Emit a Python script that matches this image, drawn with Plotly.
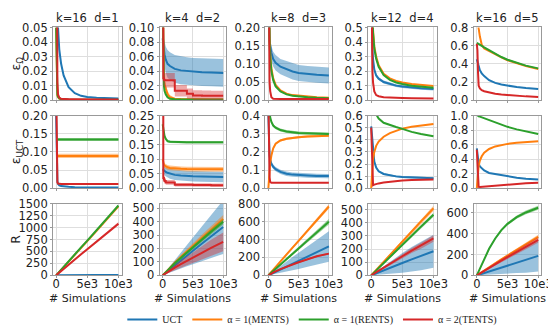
import plotly.graph_objects as go
from plotly.subplots import make_subplots

# x positions (number of simulations)
X = [0, 100, 200, 300, 500, 800, 1200, 2000, 3000, 4000, 5000, 6500, 8000, 10000]
XR = [0, 1000, 2000, 3000, 4000, 5000, 6500, 8000, 10000]

titles = ["k=16\u00a0 d=1", "k=4\u00a0 d=2", "k=8\u00a0 d=3", "k=12\u00a0 d=4", "k=16\u00a0 d=5"]
row_labels = ["ε<sub>Ω</sub>", "ε<sub>UCT</sub>", "R"]
x_ticks = [0, 5000, 10000]
x_ticktext = ["0", "5e3", "10e3"]

# ---- row 1 : eps_Omega ----
eo1_uct = [0.3, 0.1, 0.075, 0.05, 0.035, 0.025, 0.017, 0.009, 0.0048, 0.003, 0.0022, 0.0017, 0.0014, 0.0012]
eo1_ments = [0.05, 0.006, 0.003, 0.002, 0.001, 0.0006, 0.0004, 0.0003, 0.0002, 0.0002, 0.0001, 0.0001, 0.0001, 0.0001]
eo1_rents = [0.05, 0.008, 0.004, 0.0025, 0.0012, 0.0008, 0.0006, 0.0004, 0.0003, 0.0003, 0.0003, 0.0003, 0.0003, 0.0003]
eo1_tents = [0.3, 0.05, 0.012, 0.004, 0.0018, 0.001, 0.0008, 0.0007, 0.0006, 0.0005, 0.0005, 0.0005, 0.0005, 0.0005]

eo2_uct = [0.085, 0.075, 0.068, 0.063, 0.056, 0.05, 0.047, 0.043, 0.041, 0.04, 0.039, 0.0385, 0.038, 0.0375]
eo2_uct_sd = [0.008, 0.014, 0.016, 0.017, 0.018, 0.019, 0.019, 0.019, 0.019, 0.019, 0.019, 0.019, 0.019, 0.019]
eo2_ments = [0.15, 0.05, 0.03, 0.022, 0.015, 0.008, 0.004, 0.002, 0.0015, 0.0012, 0.001, 0.001, 0.001, 0.001]
eo2_ments_sd = [0.0, 0.006, 0.006, 0.006, 0.006, 0.005, 0.003, 0.001, 0.001, 0.001, 0.001, 0.001, 0.001, 0.001]
eo2_rents = [0.15, 0.04, 0.02, 0.013, 0.008, 0.004, 0.002, 0.0012, 0.001, 0.001, 0.001, 0.001, 0.001, 0.001]
eo2_tents = [0.2, 0.03, 0.028, 0.0275, 0.0275, 0.0275, 0.0275, 0.013, 0.013, 0.009, 0.0065, 0.0062, 0.006, 0.006]
eo2_tents_sd = [0.0, 0.01, 0.01, 0.01, 0.01, 0.01, 0.01, 0.008, 0.008, 0.007, 0.007, 0.007, 0.007, 0.007]

eo3_uct = [0.3, 0.2, 0.17, 0.15, 0.13, 0.113, 0.103, 0.092, 0.085, 0.079, 0.075, 0.072, 0.07, 0.068]
eo3_uct_sd = [0.01, 0.015, 0.018, 0.02, 0.02, 0.02, 0.021, 0.021, 0.022, 0.022, 0.022, 0.022, 0.022, 0.022]
eo3_ments = [0.5, 0.27, 0.18, 0.13, 0.088, 0.06, 0.042, 0.027, 0.018, 0.014, 0.012, 0.0095, 0.008, 0.007]
eo3_rents = [0.5, 0.25, 0.16, 0.12, 0.08, 0.055, 0.038, 0.024, 0.016, 0.012, 0.01, 0.008, 0.0065, 0.0055]
eo3_tents = [0.5, 0.12, 0.05, 0.025, 0.008, 0.004, 0.003, 0.003, 0.003, 0.003, 0.003, 0.003, 0.003, 0.003]

eo4_uct = [1.0, 0.5, 0.35, 0.28, 0.21, 0.17, 0.148, 0.125, 0.11, 0.1, 0.094, 0.087, 0.082, 0.077]
eo4_uct_sd = [0.02, 0.02, 0.015, 0.015, 0.012, 0.012, 0.01, 0.01, 0.01, 0.01, 0.01, 0.01, 0.01, 0.01]
eo4_ments = [1.5, 0.8, 0.6, 0.48, 0.37, 0.3, 0.24, 0.182, 0.15, 0.132, 0.121, 0.111, 0.104, 0.098]
eo4_rents = [1.5, 0.78, 0.58, 0.46, 0.355, 0.285, 0.23, 0.172, 0.14, 0.122, 0.111, 0.1, 0.093, 0.086]
eo4_tents = [1.0, 0.4, 0.2, 0.12, 0.06, 0.035, 0.027, 0.021, 0.018, 0.016, 0.015, 0.013, 0.012, 0.011]

eo5_uct = [0.45, 0.42, 0.4, 0.37, 0.33, 0.295, 0.265, 0.22, 0.19, 0.172, 0.16, 0.145, 0.134, 0.123]
eo5_ments = [1.2, 1.0, 0.87, 0.79, 0.7, 0.61, 0.57, 0.54, 0.505, 0.47, 0.44, 0.405, 0.375, 0.343]
eo5_rents = [0.63, 0.625, 0.62, 0.615, 0.605, 0.6, 0.58, 0.55, 0.51, 0.475, 0.445, 0.41, 0.38, 0.35]
eo5_tents = [0.62, 0.55, 0.3, 0.16, 0.13, 0.11, 0.098, 0.085, 0.07, 0.062, 0.056, 0.049, 0.042, 0.036]

# ---- row 2 : eps_UCT ----
eu1_uct = [0.2, 0.05, 0.02, 0.012, 0.008, 0.006, 0.005, 0.004, 0.003, 0.0025, 0.0022, 0.002, 0.002, 0.002]
eu1_ments = [0.089, 0.089, 0.089, 0.089, 0.089, 0.089, 0.089, 0.089, 0.089, 0.089, 0.089, 0.089, 0.089, 0.089]
eu1_ments_sd = [0.006, 0.006, 0.006, 0.006, 0.006, 0.006, 0.006, 0.006, 0.006, 0.006, 0.006, 0.006, 0.006, 0.006]
eu1_rents = [0.134, 0.134, 0.134, 0.134, 0.134, 0.134, 0.134, 0.134, 0.134, 0.134, 0.134, 0.134, 0.134, 0.134]
eu1_rents_sd = [0.004, 0.004, 0.004, 0.004, 0.004, 0.004, 0.004, 0.004, 0.004, 0.004, 0.004, 0.004, 0.004, 0.004]
eu1_tents = [0.3, 0.04, 0.016, 0.013, 0.012, 0.012, 0.012, 0.012, 0.012, 0.012, 0.012, 0.012, 0.012, 0.012]

eu2_uct = [0.065, 0.063, 0.061, 0.059, 0.056, 0.053, 0.05, 0.046, 0.044, 0.042, 0.041, 0.04, 0.04, 0.039]
eu2_uct_sd = [0.005, 0.01, 0.012, 0.014, 0.015, 0.016, 0.017, 0.018, 0.018, 0.018, 0.018, 0.018, 0.018, 0.018]
eu2_ments = [0.1, 0.085, 0.081, 0.078, 0.075, 0.072, 0.07, 0.068, 0.067, 0.066, 0.066, 0.066, 0.065, 0.065]
eu2_ments_sd = [0.008, 0.008, 0.008, 0.008, 0.008, 0.008, 0.008, 0.008, 0.008, 0.008, 0.008, 0.008, 0.008, 0.008]
eu2_rents = [0.22, 0.2, 0.19, 0.18, 0.17, 0.162, 0.16, 0.159, 0.158, 0.158, 0.158, 0.158, 0.158, 0.158]
eu2_rents_sd = [0.01, 0.01, 0.008, 0.008, 0.006, 0.005, 0.004, 0.004, 0.004, 0.004, 0.004, 0.004, 0.004, 0.004]
eu2_tents = [0.3, 0.035, 0.03, 0.025, 0.02, 0.02, 0.02, 0.012, 0.012, 0.012, 0.011, 0.011, 0.01, 0.01]
eu2_tents_sd = [0.0, 0.01, 0.01, 0.008, 0.008, 0.008, 0.008, 0.006, 0.006, 0.006, 0.006, 0.006, 0.006, 0.006]

eu3_uct = [0.4, 0.25, 0.18, 0.16, 0.135, 0.118, 0.105, 0.09, 0.08, 0.075, 0.072, 0.07, 0.068, 0.067]
eu3_uct_sd = [0.01, 0.012, 0.012, 0.012, 0.012, 0.012, 0.012, 0.012, 0.012, 0.012, 0.012, 0.012, 0.012, 0.012]
eu3_ments = [0.0, 0.05, 0.1, 0.14, 0.18, 0.22, 0.245, 0.263, 0.272, 0.278, 0.281, 0.285, 0.287, 0.289]
eu3_ments_sd = [0.006, 0.006, 0.006, 0.006, 0.006, 0.006, 0.006, 0.006, 0.006, 0.006, 0.006, 0.006, 0.006, 0.006]
eu3_rents = [0.5, 0.45, 0.41, 0.39, 0.365, 0.345, 0.333, 0.32, 0.312, 0.307, 0.304, 0.302, 0.3, 0.299]
eu3_rents_sd = [0.008, 0.008, 0.008, 0.008, 0.008, 0.008, 0.008, 0.008, 0.008, 0.008, 0.008, 0.008, 0.008, 0.008]
eu3_tents = [0.5, 0.2, 0.06, 0.035, 0.03, 0.03, 0.03, 0.03, 0.03, 0.03, 0.03, 0.03, 0.03, 0.03]

eu4_uct = [0.51, 0.45, 0.35, 0.28, 0.22, 0.17, 0.14, 0.118, 0.105, 0.098, 0.093, 0.088, 0.085, 0.082]
eu4_uct_sd = [0.008, 0.008, 0.008, 0.008, 0.008, 0.008, 0.008, 0.008, 0.008, 0.008, 0.008, 0.008, 0.008, 0.008]
eu4_ments = [0.0, 0.12, 0.19, 0.24, 0.3, 0.35, 0.385, 0.425, 0.455, 0.475, 0.492, 0.508, 0.52, 0.53]
eu4_rents = [0.9, 0.82, 0.76, 0.72, 0.66, 0.61, 0.575, 0.54, 0.52, 0.505, 0.49, 0.465, 0.447, 0.43]
eu4_tents = [0.5, 0.3, 0.03, 0.025, 0.03, 0.035, 0.04, 0.048, 0.055, 0.06, 0.064, 0.068, 0.071, 0.073]

eu5_uct = [0.55, 0.45, 0.38, 0.34, 0.3, 0.27, 0.245, 0.21, 0.195, 0.175, 0.16, 0.145, 0.132, 0.122]
eu5_ments = [0.0, 0.15, 0.25, 0.31, 0.38, 0.44, 0.49, 0.54, 0.575, 0.595, 0.61, 0.625, 0.637, 0.648]
eu5_rents = [1.01, 1.0, 0.995, 0.99, 0.985, 0.975, 0.965, 0.935, 0.9, 0.87, 0.845, 0.81, 0.78, 0.745]
eu5_tents = [0.53, 0.3, 0.05, 0.02, 0.018, 0.02, 0.025, 0.035, 0.045, 0.052, 0.058, 0.064, 0.07, 0.075]

# ---- row 3 : R ----
r1_uct = [0, 3, 4, 5, 5, 6, 6, 7, 7]
r1_ments = [0, 140, 285, 430, 575, 715, 930, 1150, 1445]
r1_rents = [0, 150, 295, 440, 585, 725, 940, 1160, 1460]
r1_tents = [0, 115, 225, 335, 440, 545, 700, 860, 1080]
r1_tents_sd = [0, 8, 12, 15, 18, 22, 26, 30, 35]

r2_uct = [0, 38, 75, 110, 148, 183, 237, 290, 360]
r2_uct_sd = [0, 20, 40, 60, 80, 100, 130, 160, 200]
r2_ments = [0, 50, 95, 137, 180, 220, 280, 340, 420]
r2_ments_sd = [0, 8, 12, 15, 18, 20, 24, 27, 30]
r2_rents = [0, 47, 90, 130, 170, 210, 268, 325, 400]
r2_rents_sd = [0, 6, 9, 11, 13, 15, 17, 19, 20]
r2_tents = [0, 30, 58, 83, 108, 133, 170, 205, 250]
r2_tents_sd = [0, 10, 18, 25, 32, 40, 50, 60, 70]

r3_uct = [0, 33, 66, 98, 130, 162, 210, 258, 323]
r3_uct_sd = [0, 20, 40, 55, 75, 90, 115, 140, 170]
r3_ments = [0, 80, 158, 235, 310, 385, 500, 615, 768]
r3_ments_sd = [0, 5, 8, 10, 12, 15, 18, 22, 25]
r3_rents = [0, 62, 122, 182, 240, 300, 390, 480, 597]
r3_rents_sd = [0, 6, 10, 14, 17, 20, 24, 27, 30]
r3_tents = [0, 40, 70, 97, 122, 146, 180, 212, 242]
r3_tents_sd = [0, 4, 5, 6, 7, 8, 9, 10, 10]

r4_uct = [0, 20, 39, 57, 76, 94, 121, 148, 183]
r4_uct_sd = [0, 15, 30, 45, 60, 75, 95, 110, 125]
r4_ments = [0, 52, 103, 153, 203, 255, 330, 410, 509]
r4_ments_sd = [0, 5, 7, 9, 11, 13, 15, 18, 20]
r4_rents = [0, 47, 94, 140, 186, 232, 300, 370, 461]
r4_rents_sd = [0, 4, 6, 8, 10, 11, 12, 14, 15]
r4_tents = [0, 30, 58, 87, 116, 145, 188, 225, 280]
r4_tents_sd = [0, 8, 10, 12, 14, 16, 19, 22, 25]

r5_uct = [0, 19, 38, 56, 75, 94, 122, 150, 187]
r5_uct_sd = [0, 15, 30, 45, 60, 75, 100, 125, 150]
r5_ments = [0, 40, 78, 116, 153, 190, 245, 300, 371]
r5_ments_sd = [0, 5, 8, 10, 12, 14, 16, 18, 20]
r5_rents = [0, 135, 255, 355, 435, 495, 560, 605, 650]
r5_rents_sd = [0, 5, 8, 10, 12, 14, 16, 18, 20]
r5_tents = [0, 37, 72, 107, 141, 175, 225, 275, 341]
r5_tents_sd = [0, 6, 10, 13, 16, 19, 22, 25, 28]

COLORS = {"UCT": "#1f77b4", "MENTS": "#ff7f0e", "RENTS": "#2ca02c", "TENTS": "#d62728"}
FILLS = {"UCT": "rgba(31,119,180,0.45)", "MENTS": "rgba(255,127,14,0.45)",
         "RENTS": "rgba(44,160,44,0.45)", "TENTS": "rgba(214,39,40,0.4)"}
NAMES = {"UCT": "UCT", "MENTS": "α = 1(MENTS)", "RENTS": "α = 1(RENTS)", "TENTS": "α = 2(TENTS)"}

# (row, col, x, [(key, y, sd, shape)], ymax, dtick, fmt)
panels = [
    (1, 1, X, [("UCT", eo1_uct, None, "linear"), ("MENTS", eo1_ments, None, "linear"),
               ("RENTS", eo1_rents, None, "linear"), ("TENTS", eo1_tents, None, "linear")], 0.05, 0.01, ".2f"),
    (1, 2, X, [("UCT", eo2_uct, eo2_uct_sd, "linear"), ("MENTS", eo2_ments, eo2_ments_sd, "linear"),
               ("RENTS", eo2_rents, None, "linear"), ("TENTS", eo2_tents, eo2_tents_sd, "hv")], 0.10, 0.02, ".2f"),
    (1, 3, X, [("UCT", eo3_uct, eo3_uct_sd, "linear"), ("MENTS", eo3_ments, None, "linear"),
               ("RENTS", eo3_rents, None, "linear"), ("TENTS", eo3_tents, None, "linear")], 0.20, 0.05, ".2f"),
    (1, 4, X, [("UCT", eo4_uct, eo4_uct_sd, "linear"), ("MENTS", eo4_ments, None, "linear"),
               ("RENTS", eo4_rents, None, "linear"), ("TENTS", eo4_tents, None, "linear")], 0.5, 0.1, ".1f"),
    (1, 5, X, [("UCT", eo5_uct, None, "linear"), ("MENTS", eo5_ments, None, "linear"),
               ("RENTS", eo5_rents, None, "linear"), ("TENTS", eo5_tents, None, "linear")], 0.8, 0.2, ".1f"),
    (2, 1, X, [("UCT", eu1_uct, None, "linear"), ("MENTS", eu1_ments, eu1_ments_sd, "linear"),
               ("RENTS", eu1_rents, eu1_rents_sd, "linear"), ("TENTS", eu1_tents, None, "linear")], 0.20, 0.05, ".2f"),
    (2, 2, X, [("UCT", eu2_uct, eu2_uct_sd, "linear"), ("MENTS", eu2_ments, eu2_ments_sd, "linear"),
               ("RENTS", eu2_rents, eu2_rents_sd, "linear"), ("TENTS", eu2_tents, eu2_tents_sd, "hv")], 0.25, 0.05, ".2f"),
    (2, 3, X, [("UCT", eu3_uct, eu3_uct_sd, "linear"), ("MENTS", eu3_ments, eu3_ments_sd, "linear"),
               ("RENTS", eu3_rents, eu3_rents_sd, "linear"), ("TENTS", eu3_tents, None, "linear")], 0.4, 0.1, ".1f"),
    (2, 4, X, [("UCT", eu4_uct, eu4_uct_sd, "linear"), ("MENTS", eu4_ments, None, "linear"),
               ("RENTS", eu4_rents, None, "linear"), ("TENTS", eu4_tents, None, "linear")], 0.6, 0.1, ".1f"),
    (2, 5, X, [("UCT", eu5_uct, None, "linear"), ("MENTS", eu5_ments, None, "linear"),
               ("RENTS", eu5_rents, None, "linear"), ("TENTS", eu5_tents, None, "linear")], 1.0, 0.2, ".1f"),
    (3, 1, XR, [("UCT", r1_uct, None, "linear"), ("MENTS", r1_ments, None, "linear"),
                ("RENTS", r1_rents, None, "linear"), ("TENTS", r1_tents, r1_tents_sd, "linear")], 1500, 250, "d"),
    (3, 2, XR, [("UCT", r2_uct, r2_uct_sd, "linear"), ("MENTS", r2_ments, r2_ments_sd, "linear"),
                ("RENTS", r2_rents, r2_rents_sd, "linear"), ("TENTS", r2_tents, r2_tents_sd, "linear")], 535, 100, "d"),
    (3, 3, XR, [("UCT", r3_uct, r3_uct_sd, "linear"), ("MENTS", r3_ments, r3_ments_sd, "linear"),
                ("RENTS", r3_rents, r3_rents_sd, "linear"), ("TENTS", r3_tents, r3_tents_sd, "linear")], 800, 200, "d"),
    (3, 4, XR, [("UCT", r4_uct, r4_uct_sd, "linear"), ("MENTS", r4_ments, r4_ments_sd, "linear"),
                ("RENTS", r4_rents, r4_rents_sd, "linear"), ("TENTS", r4_tents, r4_tents_sd, "linear")], 545, 100, "d"),
    (3, 5, XR, [("UCT", r5_uct, r5_uct_sd, "linear"), ("MENTS", r5_ments, r5_ments_sd, "linear"),
                ("RENTS", r5_rents, r5_rents_sd, "linear"), ("TENTS", r5_tents, r5_tents_sd, "linear")], 690, 200, "d"),
]

W, H = 556, 327
col_px = [(45, 115), (154, 222), (262, 330), (367, 437), (475, 544)]
row_px = [(13, 89), (105, 181), (197, 272)]

fig = make_subplots(rows=3, cols=5)

for row, col, xs, series, ymax, dtick, fmt in panels:
    for key, ys, sd, shape in series:
        if sd is not None:
            upper = [a + b for a, b in zip(ys, sd)]
            lower = [a - b for a, b in zip(ys, sd)]
            fig.add_trace(go.Scatter(x=xs, y=upper, mode="lines", line=dict(width=0, shape=shape),
                                     showlegend=False, hoverinfo="skip"), row=row, col=col)
            fig.add_trace(go.Scatter(x=xs, y=lower, mode="lines", line=dict(width=0, shape=shape),
                                     fill="tonexty", fillcolor=FILLS[key],
                                     showlegend=False, hoverinfo="skip"), row=row, col=col)
        fig.add_trace(go.Scatter(x=xs, y=ys, mode="lines", name=NAMES[key], legendgroup=key,
                                 line=dict(color=COLORS[key], width=2, shape=shape),
                                 showlegend=(row == 1 and col == 1)), row=row, col=col)

    x0, x1 = col_px[col - 1]
    y0, y1 = row_px[row - 1]
    n = int(ymax / dtick + 1e-6)
    yticks = [round(i * dtick, 6) for i in range(n + 1)]
    fig.update_xaxes(domain=[x0 / W, x1 / W], range=[-500, 10500],
                     tickvals=x_ticks, ticktext=x_ticktext, showticklabels=(row == 3),
                     row=row, col=col)
    fig.update_yaxes(domain=[1 - y1 / H, 1 - y0 / H], range=[0, ymax * 1.0005],
                     tickvals=yticks, tickformat=fmt, row=row, col=col)
    if col == 1:
        fig.update_yaxes(title=dict(text=row_labels[row - 1], standoff=1,
                                    font=dict(family="DejaVu Sans", size=12.5, color="#222")),
                         row=row, col=col)

axis_style = dict(showgrid=True, gridcolor="#dedede", gridwidth=1, zeroline=False,
                  showline=True, mirror=True, linecolor="#999999", linewidth=1,
                  ticks="outside", ticklen=2, tickcolor="#999999",
                  tickfont=dict(family="DejaVu Sans", size=11.5, color="#222"))
fig.update_xaxes(ticklabelstandoff=-4, **axis_style)
fig.update_yaxes(**axis_style)

annotations = []
for i, t in enumerate(titles):
    x0, x1 = col_px[i]
    annotations.append(dict(text=t, x=(x0 + x1) / 2 / W, y=1 - row_px[0][0] / H,
                            xref="paper", yref="paper", xanchor="center", yanchor="bottom",
                            showarrow=False, font=dict(family="DejaVu Sans", size=11.5, color="#222")))
for i in range(5):
    x0, x1 = col_px[i]
    annotations.append(dict(text="# Simulations", x=(x0 + x1) / 2 / W, y=1 - 296 / H,
                            xref="paper", yref="paper", xanchor="center", yanchor="middle",
                            showarrow=False, font=dict(family="DejaVu Sans", size=11, color="#222")))

fig.update_layout(
    width=W, height=H,
    margin=dict(l=0, r=0, t=0, b=0),
    paper_bgcolor="white", plot_bgcolor="white",
    annotations=annotations,
    legend=dict(orientation="h", x=310 / W, xanchor="center", y=1 - 318 / H, yanchor="middle",
                font=dict(family="Liberation Serif", size=10, color="#222"),
                bgcolor="rgba(0,0,0,0)", itemwidth=30),
    showlegend=True,
)

fig.write_html("out.html")
